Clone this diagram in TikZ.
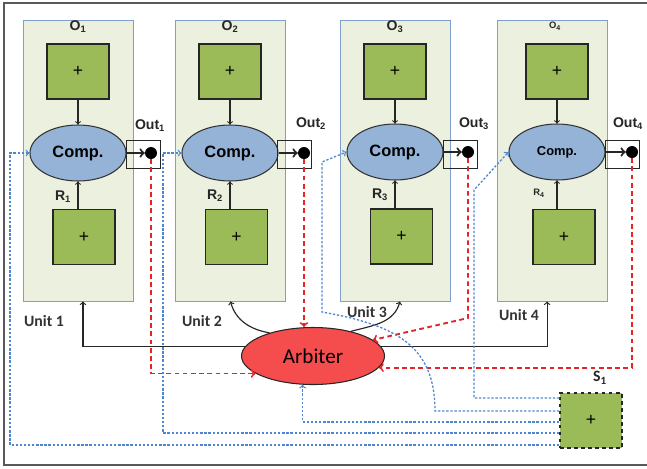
\documentclass[tikz,border=0pt]{standalone}
\usepackage{fontspec}
\setmainfont{Liberation Sans}
\newfontfamily\calib{Carlito}
\usetikzlibrary{shapes.geometric}
\definecolor{unitbg}{HTML}{EBF1DE}
\definecolor{unitline}{HTML}{7F9FCF}
\definecolor{boxgreen}{HTML}{9BBB59}
\definecolor{compblue}{HTML}{95B3D7}
\definecolor{arbred}{HTML}{F54D4D}
\definecolor{sigblue}{HTML}{4F86D0}
\definecolor{reqred}{HTML}{E3242B}
\tikzstyle{every edge} = [draw,->,line width=0.9pt,black!85]
\tikzstyle{unit} = [draw=unitline,line width=0.8pt,fill=unitbg,minimum width=3.3cm,minimum height=8.43cm,inner sep=0pt]
\tikzstyle{src} = [draw=black!85,line width=1.2pt,fill=boxgreen,minimum width=1.86cm,minimum height=1.65cm,inner sep=0pt,font=\fontsize{15}{15}\selectfont]
\tikzstyle{comp} = [draw=black!80,line width=0.9pt,ellipse,fill=compblue,minimum width=2.88cm,minimum height=1.68cm,inner sep=0pt,font=\bfseries\fontsize{14}{14}\selectfont]
\tikzstyle{outbox} = [draw=black!85,line width=0.8pt,minimum width=1.02cm,minimum height=0.84cm,inner sep=0pt]
\tikzstyle{outdot} = [fill=black,circle,minimum size=0.36cm,inner sep=0pt]
\tikzstyle{arbiter} = [draw=black!85,line width=0.9pt,ellipse,fill=arbred,minimum width=4.29cm,minimum height=1.71cm,inner sep=0pt,font=\calib\fontsize{18}{18}\selectfont]
\tikzstyle{lbl} = [font=\bfseries\fontsize{12}{12}\selectfont,text=black!85]
\tikzstyle{tinylbl} = [font=\bfseries\fontsize{8}{8}\selectfont,text=black!85]
\tikzstyle{unitlbl} = [font=\calib\bfseries\fontsize{13.5}{13.5}\selectfont,text=black!80]
\tikzstyle{sig} = [draw=sigblue,line width=1.1pt,dash pattern=on 2pt off 1.5pt,->]
\tikzstyle{req} = [draw=reqred,line width=1.6pt,dash pattern=on 4pt off 3pt,->]
\tikzstyle{grant} = [draw=black!85,line width=1pt,->]

\begin{document}
\begin{tikzpicture}[x=0.03cm,y=-0.03cm]

\useasboundingbox (0,0) rectangle (647,468);
\draw[black!65,line width=2pt] (647,3) -- (4,3) -- (4,465) -- (647,465);

% units
\node[unit] (unit1) at (78,160.5) {};
\node[unit] (unit2) at (230.5,160.5) {};
\node[unit] (unit3) at (395,160.5) {};
\node[unit] (unit4) at (552,160.5) {};

\node[src] (src1t) at (78,71.5) {+};
\node[src] (src2t) at (230,71.5) {+};
\node[src] (src3t) at (395,71.5) {+};
\node[src] (src4t) at (557,71.5) {+};

\node[src] (src1b) at (84,237) {+};
\node[src] (src2b) at (236.5,237) {+};
\node[src] (src3b) at (401.5,236.5) {+};
\node[src] (src4b) at (564,237) {+};

\node[comp] (comp1) at (78,153) {Comp.};
\node[comp] (comp2) at (230,153) {Comp.};
\node[comp] (comp3) at (395,152) {Comp.};
\node[comp,font=\bfseries\fontsize{11}{11}\selectfont] (comp4) at (557,152) {Comp.};

\node[outbox] (out1) at (143,154) {};
\node[outbox] (out2) at (294.5,154) {};
\node[outbox] (out3) at (460,154) {};
\node[outbox] (out4) at (622.5,154) {};

\node[outdot] (dot1) at (151,153) {};
\node[outdot] (dot2) at (304,153) {};
\node[outdot] (dot3) at (468,152) {};
\node[outdot] (dot4) at (632,152) {};

% labels
\node[lbl] (o1) at (78,27) {O\textsubscript{1}};
\node[lbl] (o2) at (230,27) {O\textsubscript{2}};
\node[lbl] (o3) at (395,27) {O\textsubscript{3}};
\node[tinylbl] (o4) at (555,26) {O\textsubscript{4}};

\node[lbl] (lout1) at (150,126) {Out\textsubscript{1}};
\node[lbl] (lout2) at (311,124) {Out\textsubscript{2}};
\node[lbl] (lout3) at (474,124) {Out\textsubscript{3}};
\node[lbl] (lout4) at (628,124) {Out\textsubscript{4}};

\node[lbl] (r1) at (63,197) {R\textsubscript{1}};
\node[lbl] (r2) at (215,196) {R\textsubscript{2}};
\node[lbl] (r3) at (380,195) {R\textsubscript{3}};
\node[tinylbl] (r4) at (539,193) {R\textsubscript{4}};

\node[unitlbl] (lunit1) at (44,321) {Unit 1};
\node[unitlbl] (lunit2) at (202,321) {Unit 2};
\node[unitlbl] (lunit3) at (367,312) {Unit 3};
\node[unitlbl] (lunit4) at (519,315) {Unit 4};

\node[arbiter] (arb) at (313,356) {Arbiter};
\node[src,dashed] (s1) at (591,420.5) {+};
\node[unitlbl,text=black!85] (ls1) at (600,378) {S\textsubscript{1}};

% inside the units
\draw (src1t) edge (comp1) (comp1.south |- src1b.north) edge (comp1.south);
\draw (src2t) edge (comp2) (comp2.south |- src2b.north) edge (comp2.south);
\draw (src3t) edge (comp3) (comp3.south |- src3b.north) edge (comp3.south);
\draw (src4t) edge (comp4) (comp4.south |- src4b.north) edge (comp4.south);

\draw[grant,line width=1.8pt] (comp1) -- (dot1);
\draw[grant,line width=1.8pt] (comp2) -- (dot2);
\draw[grant,line width=1.8pt] (comp3) -- (dot3);
\draw[grant,line width=1.8pt] (comp4) -- (dot4);

% requests to the arbiter
\draw[req] (dot1) |- (arb.197);
\draw[req] (dot2) -- (dot2 |- arb.north);
\draw[req] (dot3) -- (dot3 |- 0,318) -- (arb.15);
\draw[req] (dot4) |- (arb.350);

% grants
\draw[grant] (arb.172) -| (unit1.272);
\draw[grant] (arb.152) to[out=170,in=-75] (unit2.south);
\draw[grant] (arb.33) to[out=15,in=-105] (unit3.272);
\draw[grant] (arb.8) -| (unit4.268);

% signals from S1
\draw[sig] (s1.west |- 0,445) -| (10,153) -- (comp1.west);
\draw[sig] (s1.west |- 0,433) -| (163,153) -- (comp2.west);
\draw[sig] (s1.west |- 0,422) -| (arb.250);
\draw[sig] (s1.west |- 0,411) -- (435,411) .. controls (435,345) and (395,325) .. (322,312) -- (322,162) -- (comp3.west);
\draw[sig] (s1.west |- 0,398) -| (474,190) -- (comp4.west);

\end{tikzpicture}
\end{document}
